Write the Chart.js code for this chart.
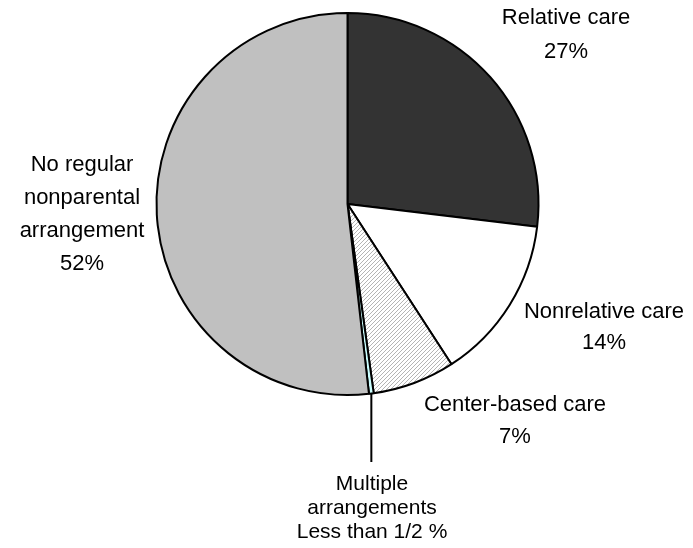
<!DOCTYPE html>
<html>
<head>
<meta charset="utf-8">
<script src="https://cdn.jsdelivr.net/npm/chart.js@4/dist/chart.umd.min.js"></script>
<style>
  html, body { margin: 0; padding: 0; background: #fff; }
  #contenedor { width: 693px; height: 548px; }
</style>
</head>
<body>
<div id="contenedor"><canvas id="grafico-cuidado"></canvas></div>
<script>
// datos
const categorias = ['Relative care', 'Nonrelative care', 'Center-based care', 'Multiple arrangements', 'No regular nonparental arrangement'];
const porcentajes = [27, 14, 7, 0.4, 52];
const etiquetasPct = ['27%', '14%', '7%', 'Less than 1/2 %', '52%'];
const lineasNombre = [
  ['Relative care'],
  ['Nonrelative care'],
  ['Center-based care'],
  ['Multiple', 'arrangements'],
  ['No regular', 'nonparental', 'arrangement']
];

// rayado diagonal para center-based
function crearRayado() {
  const c = document.createElement('canvas');
  c.width = 4; c.height = 4;
  const g = c.getContext('2d');
  g.fillStyle = '#fff';
  g.fillRect(0, 0, 4, 4);
  g.strokeStyle = '#b4b4b4';
  g.lineWidth = 1;
  g.beginPath();
  g.moveTo(-1, 5); g.lineTo(5, -1);
  g.moveTo(-1, 1); g.lineTo(1, -1);
  g.moveTo(3, 5); g.lineTo(5, 3);
  g.stroke();
  return g.createPattern(c, 'repeat');
}

const colores = ['#333333', '#ffffff', crearRayado(), '#ccffff', '#c0c0c0'];

// x centro, y primera linea, alto de linea
const posEtiquetas = [
  { x: 566, y: 18, alto: 34 },
  { x: 604, y: 312, alto: 31 },
  { x: 515, y: 405, alto: 32 },
  { x: 372, y: 484, alto: 24 },
  { x: 82, y: 165, alto: 33 }
];

const pluginEtiquetas = {
  id: 'etiquetas',
  afterDraw(chart) {
    const ctx = chart.ctx;
    const arcos = chart.getDatasetMeta(0).data;
    ctx.save();
    ctx.fillStyle = '#000';
    ctx.textAlign = 'center';
    ctx.textBaseline = 'middle';
    categorias.forEach((cat, i) => {
      const p = posEtiquetas[i];
      const lineas = lineasNombre[i].concat([etiquetasPct[i]]);
      const tam = i === 3 ? 21 : 22;
      ctx.font = tam + 'px "Liberation Sans", Arial, sans-serif';
      lineas.forEach((t, k) => ctx.fillText(t, p.x, p.y + k * p.alto));
    });
    // linea guia de multiple arrangements
    const a = arcos[3];
    const ang = (a.startAngle + a.endAngle) / 2;
    const x0 = a.x + Math.cos(ang) * a.outerRadius;
    const y0 = a.y + Math.sin(ang) * a.outerRadius;
    ctx.strokeStyle = '#000';
    ctx.lineWidth = 2;
    ctx.beginPath();
    ctx.moveTo(x0, y0);
    ctx.lineTo(x0, posEtiquetas[3].y - 22);
    ctx.stroke();
    ctx.restore();
  }
};

new Chart(document.getElementById('grafico-cuidado'), {
  type: 'pie',
  data: {
    labels: categorias,
    datasets: [{
      data: porcentajes,
      backgroundColor: colores,
      borderColor: '#000',
      borderWidth: 2
    }]
  },
  options: {
    responsive: true,
    maintainAspectRatio: false,
    animation: false,
    radius: 191,
    layout: { padding: { left: 2, right: 0, top: 0, bottom: 140 } },
    plugins: {
      legend: { display: false },
      tooltip: { enabled: false }
    }
  },
  plugins: [pluginEtiquetas]
});
</script>
</body>
</html>
